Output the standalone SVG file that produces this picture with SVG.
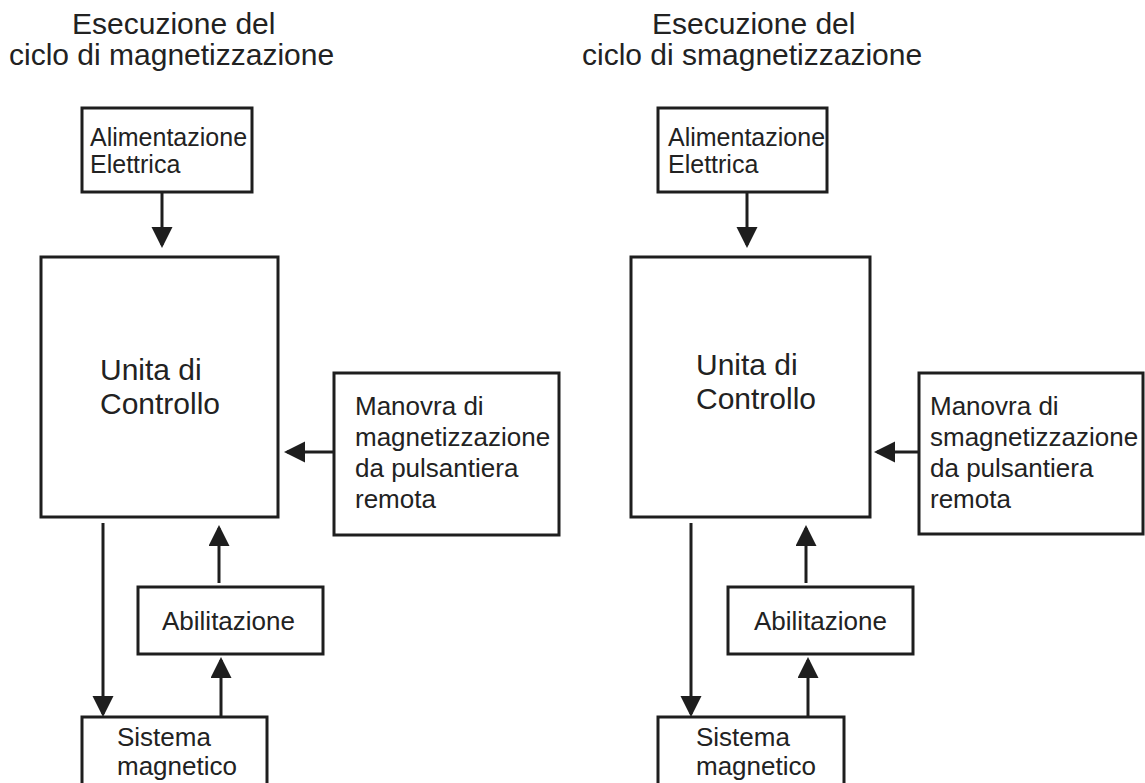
<svg xmlns="http://www.w3.org/2000/svg" width="1145" height="783" viewBox="0 0 1145 783">
<style>
.box{fill:#fff;stroke:#1e1e1e;stroke-width:3}
.t{font-family:"Liberation Sans",Arial,sans-serif;fill:#222}
.title{font-size:30px}
.s25{font-size:25px}
.s26{font-size:26px}
.s30{font-size:30px}
.c{stroke:#1e1e1e;stroke-width:3;fill:none;marker-end:url(#ah)}
</style>
<defs>
<marker id="ah" markerUnits="userSpaceOnUse" markerWidth="22" markerHeight="22" refX="18" refY="10.5" orient="auto">
<path d="M0,0 L21,10.5 L0,21 z" fill="#1e1e1e"/>
</marker>
</defs>
<rect width="1145" height="783" fill="#fff"/>
<g id="title-left">
<text class="t title" x="72" y="34">Esecuzione del</text>
<text class="t title" x="9" y="65">ciclo di magnetizzazione</text>
</g>
<g id="title-right">
<text class="t title" x="652" y="34">Esecuzione del</text>
<text class="t title" x="582" y="65">ciclo di smagnetizzazione</text>
</g>
<g id="alim-left">
<rect class="box" x="82" y="108" width="170" height="84"/>
<text class="t s25" x="90" y="146">Alimentazione</text>
<text class="t s25" x="90" y="173">Elettrica</text>
</g>
<g id="unita-left">
<rect class="box" x="41" y="257" width="237" height="260"/>
<text class="t s30" x="100" y="380">Unita di</text>
<text class="t s30" x="100" y="414">Controllo</text>
</g>
<g id="manovra-left">
<rect class="box" x="334" y="373" width="225" height="162"/>
<text class="t s26" x="355" y="415">Manovra di</text>
<text class="t s26" x="355" y="446">magnetizzazione</text>
<text class="t s26" x="355" y="477">da pulsantiera</text>
<text class="t s26" x="355" y="508">remota</text>
</g>
<g id="abil-left">
<rect class="box" x="138" y="587" width="185" height="67"/>
<text class="t s26" x="162" y="630">Abilitazione</text>
</g>
<g id="sistema-left">
<rect class="box" x="82" y="717" width="185" height="80"/>
<text class="t s26" x="117" y="746">Sistema</text>
<text class="t s26" x="117" y="775">magnetico</text>
</g>
<g id="alim-right">
<rect class="box" x="658" y="108" width="169" height="84"/>
<text class="t s25" x="668" y="146">Alimentazione</text>
<text class="t s25" x="668" y="173">Elettrica</text>
</g>
<g id="unita-right">
<rect class="box" x="631" y="257" width="239" height="260"/>
<text class="t s30" x="696" y="375">Unita di</text>
<text class="t s30" x="696" y="409">Controllo</text>
</g>
<g id="manovra-right">
<rect class="box" x="919" y="373" width="224" height="161"/>
<text class="t s26" x="930" y="415">Manovra di</text>
<text class="t s26" x="930" y="446">smagnetizzazione</text>
<text class="t s26" x="930" y="477">da pulsantiera</text>
<text class="t s26" x="930" y="508">remota</text>
</g>
<g id="abil-right">
<rect class="box" x="728" y="587" width="185" height="67"/>
<text class="t s26" x="754" y="630">Abilitazione</text>
</g>
<g id="sistema-right">
<rect class="box" x="658" y="717" width="186" height="80"/>
<text class="t s26" x="696" y="746">Sistema</text>
<text class="t s26" x="696" y="775">magnetico</text>
</g>
<g id="connectors">
<line class="c" x1="162" y1="193" x2="162" y2="245"/>
<line class="c" x1="334" y1="452" x2="287" y2="452"/>
<line class="c" x1="103" y1="523" x2="103" y2="714"/>
<line class="c" x1="221" y1="717" x2="221" y2="660"/>
<line class="c" x1="219" y1="583" x2="219" y2="528"/>
<line class="c" x1="747" y1="193" x2="747" y2="245"/>
<line class="c" x1="919" y1="452" x2="877" y2="452"/>
<line class="c" x1="691" y1="523" x2="691" y2="714"/>
<line class="c" x1="808" y1="717" x2="808" y2="660"/>
<line class="c" x1="806" y1="583" x2="806" y2="528"/>
</g>
</svg>
